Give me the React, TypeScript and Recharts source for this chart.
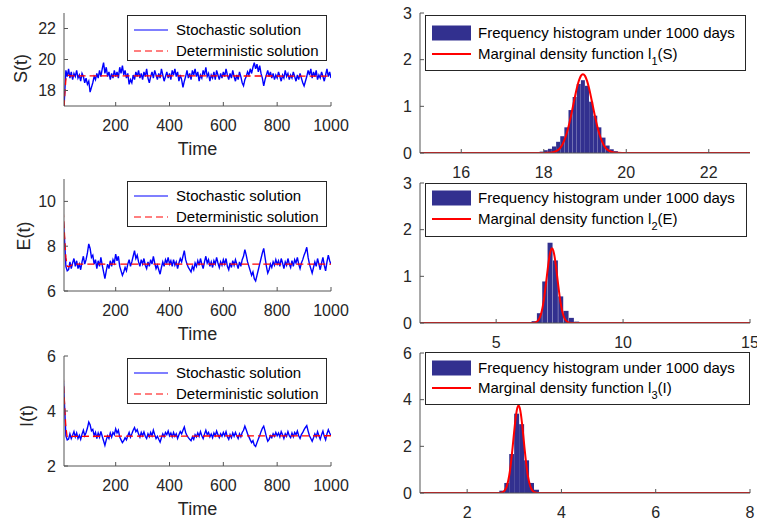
import React from 'react';
import { ComposedChart, LineChart, Line, Bar, XAxis, YAxis, Legend, Label } from 'recharts';

const FONT = '"Liberation Sans", Arial, Helvetica, sans-serif';
const AXIS = '#555555';
const TXT = '#262626';
const BLUE = '#0000ff';
const RED = '#ff0000';
const BARC = '#32308f';

// ---- time grid (t = 5, 10, ..., 1000) ----
const T0 = 5;
const DT = 5;
const timeTicks = [200, 400, 600, 800, 1000];
const timeDomain: [number, number] = [8, 1000];

// ---- S(t) ----
const sStoch = [
  16.0, 17.6, 19.3, 18.9, 19.4, 18.8, 19.2, 18.7, 19.1, 18.9, 19.3, 18.8, 19.0, 18.6, 19.1, 18.9, 18.5, 18.8, 18.4, 18.6,
  17.9, 18.2, 18.5, 18.9, 18.7, 19.1, 18.8, 19.3, 18.9, 19.4, 19.8, 19.1, 19.5, 18.9, 19.2, 18.7, 19.1, 18.8, 19.3, 18.9,
  19.2, 18.8, 19.5, 19.1, 19.6, 19.0, 19.3, 18.8, 19.1, 18.4, 18.7, 18.5, 19.0, 18.7, 19.2, 18.9, 19.3, 18.8, 19.1, 18.7,
  19.2, 18.9, 19.4, 18.8, 18.5, 18.9, 19.2, 18.8, 19.3, 19.0, 18.7, 19.1, 18.8, 19.4, 19.0, 18.6, 18.9, 19.2, 18.8, 19.1,
  18.7, 19.3, 19.0, 19.4, 18.9, 19.2, 18.6, 19.0, 18.7, 18.2, 18.6, 18.9, 19.3, 18.8, 19.1, 18.7, 19.3, 19.0, 19.4, 18.9,
  19.2, 18.6, 19.0, 18.8, 19.3, 19.0, 19.5, 18.9, 19.1, 18.6, 19.0, 18.8, 19.2, 18.7, 19.3, 19.0, 18.7, 19.1, 18.8, 19.2,
  18.9, 19.4, 19.0, 18.7, 19.1, 18.8, 19.3, 18.9, 18.6, 19.0, 18.7, 19.2, 18.9, 18.5, 18.3, 18.7, 18.9, 19.2, 19.0, 19.4,
  19.1, 19.5, 19.8, 19.4, 19.7, 19.2, 19.6, 19.1, 18.8, 18.3, 18.7, 19.0, 19.3, 18.9, 19.2, 18.8, 19.1, 18.7, 19.0, 18.8,
  19.2, 18.9, 18.6, 19.0, 18.8, 19.3, 18.9, 19.1, 18.7, 19.0, 18.8, 19.2, 18.9, 18.6, 19.0, 18.7, 19.1, 18.8, 18.5, 18.3,
  18.6, 18.9, 19.3, 19.0, 19.4, 18.8, 19.2, 18.9, 19.3, 18.7, 19.0, 18.8, 19.2, 18.9, 18.6, 19.0, 19.4, 18.9, 19.2, 18.8,
];
const sDetT = [5, 10, 15, 20, 30, 1000];
const sDetV = [15.5, 17.5, 18.7, 19.0, 18.95, 18.93];

// ---- E(t) ----
const eStoch = [
  9.2, 8.3, 7.1, 6.9, 6.95, 7.3, 7.0, 7.25, 7.45, 7.1, 7.35, 7.0, 7.2, 6.95, 7.3, 7.55, 7.2, 7.4, 7.7, 8.1,
  7.9, 7.5, 7.6, 7.2, 7.4, 7.0, 7.35, 7.1, 7.5, 7.15, 6.85, 6.55, 6.9, 7.2, 7.0, 7.35, 7.1, 7.4, 7.25, 7.65,
  7.35, 7.55, 7.1, 6.9, 6.7, 6.85, 7.05, 6.9, 7.2, 7.4, 7.1, 7.3, 7.55, 7.8, 7.45, 7.6, 7.3, 7.1, 7.4, 7.2,
  7.45, 7.15, 7.0, 7.3, 7.1, 7.4, 7.2, 7.55, 7.25, 7.0, 7.15, 6.95, 6.75, 7.05, 7.3, 7.1, 7.4, 7.25, 7.5, 7.2,
  7.35, 7.1, 7.4, 7.15, 7.3, 7.0, 7.25, 7.45, 7.3, 7.55, 7.8, 7.4, 7.2, 7.05, 6.95, 6.85, 7.1, 6.95, 7.25, 7.1,
  7.35, 7.15, 7.45, 7.2, 7.0, 7.3, 7.55, 7.25, 7.4, 7.1, 7.3, 7.05, 7.35, 7.2, 7.5, 7.25, 7.05, 7.3, 7.15, 7.4,
  7.2, 7.45, 7.1, 6.95, 7.25, 7.05, 7.35, 7.15, 7.4, 7.2, 7.0, 7.3, 7.1, 7.4, 7.55, 7.85, 7.6, 7.3, 7.1, 6.9,
  6.7, 6.85, 6.55, 6.45, 6.7, 6.95, 7.2, 7.45, 7.7, 7.9, 7.5, 7.1, 6.8, 6.95, 7.2, 7.05, 7.3, 7.15, 7.4, 7.2,
  7.35, 7.1, 7.45, 7.25, 7.0, 7.3, 7.15, 7.45, 7.2, 7.05, 7.35, 7.1, 7.4, 7.25, 7.5, 7.2, 7.0, 7.25, 7.4, 7.6,
  7.75, 7.95, 7.5, 7.2, 7.0, 6.8, 7.05, 7.3, 7.1, 7.45, 7.2, 6.95, 7.25, 7.5, 7.15, 6.9, 7.3, 7.6, 7.35, 7.2,
];
const eDetT = [5, 10, 15, 20, 25, 35, 45, 1000];
const eDetV = [9.6, 8.5, 7.5, 7.1, 7.08, 7.15, 7.2, 7.2];

// ---- I(t) ----
const iStoch = [
  5.2, 4.2, 3.1, 2.95, 2.98, 3.17, 3.0, 3.12, 3.25, 3.06, 3.2, 3.0, 3.12, 2.97, 3.16, 3.3, 3.1, 3.22, 3.38, 3.6,
  3.5, 3.28, 3.33, 3.1, 3.22, 3.0, 3.2, 3.05, 3.26, 3.08, 2.92, 2.75, 2.95, 3.1, 3.0, 3.2, 3.05, 3.22, 3.14, 3.35,
  3.2, 3.3, 3.05, 2.95, 2.85, 2.92, 3.03, 2.95, 3.1, 3.22, 3.05, 3.17, 3.3, 3.4, 3.25, 3.32, 3.16, 3.05, 3.22, 3.1,
  3.24, 3.08, 3.0, 3.17, 3.06, 3.22, 3.1, 3.3, 3.14, 3.0, 3.08, 2.97, 2.87, 3.03, 3.17, 3.06, 3.22, 3.14, 3.27, 3.1,
  3.2, 3.06, 3.22, 3.08, 3.17, 3.0, 3.14, 3.25, 3.17, 3.3, 3.42, 3.22, 3.1, 3.03, 2.97, 2.92, 3.06, 2.97, 3.14, 3.06,
  3.2, 3.08, 3.25, 3.1, 3.0, 3.16, 3.3, 3.14, 3.22, 3.06, 3.16, 3.03, 3.2, 3.1, 3.27, 3.14, 3.03, 3.17, 3.08, 3.22,
  3.1, 3.25, 3.06, 2.97, 3.14, 3.03, 3.2, 3.08, 3.22, 3.1, 3.0, 3.17, 3.06, 3.22, 3.3, 3.45, 3.32, 3.17, 3.06, 2.95,
  2.85, 2.92, 2.76, 2.71, 2.85, 2.98, 3.1, 3.25, 3.37, 3.45, 3.27, 3.06, 2.9, 2.97, 3.1, 3.03, 3.17, 3.08, 3.22, 3.1,
  3.2, 3.06, 3.25, 3.14, 3.0, 3.17, 3.08, 3.25, 3.1, 3.03, 3.2, 3.06, 3.22, 3.14, 3.27, 3.1, 3.0, 3.14, 3.22, 3.32,
  3.4, 3.47, 3.27, 3.1, 3.0, 2.9, 3.03, 3.17, 3.06, 3.25, 3.1, 2.97, 3.14, 3.27, 3.08, 2.95, 3.17, 3.32, 3.2, 3.1,
];
const iDetT = [5, 10, 15, 20, 25, 35, 1000];
const iDetV = [5.3, 4.3, 3.4, 3.05, 3.04, 3.08, 3.1];

// ---- histograms ----
const sBinX = [17.95, 18.05, 18.15, 18.25, 18.35, 18.45, 18.55, 18.65, 18.75, 18.85, 18.95, 19.05, 19.15, 19.25, 19.35, 19.45, 19.55, 19.65, 19.75, 19.85];
const sBinY = [0.03, 0.06, 0.09, 0.14, 0.24, 0.36, 0.55, 0.92, 1.2, 1.48, 1.56, 1.44, 1.1, 0.8, 0.55, 0.33, 0.16, 0.08, 0.04, 0.02];
const sDensX = [15, 17.9, 18.0, 18.1, 18.2, 18.25, 18.3, 18.35, 18.4, 18.45, 18.5, 18.55, 18.6, 18.65, 18.7, 18.75, 18.8, 18.85, 18.9, 18.95, 19.0, 19.05, 19.1, 19.15, 19.2, 19.25, 19.3, 19.35, 19.4, 19.45, 19.5, 19.55, 19.6, 19.65, 19.7, 19.8, 19.9, 20.0, 23];
const sDensY = [0, 0, 0.0, 0.003, 0.011, 0.021, 0.038, 0.067, 0.112, 0.179, 0.274, 0.402, 0.563, 0.753, 0.964, 1.18, 1.381, 1.545, 1.653, 1.69, 1.653, 1.545, 1.381, 1.18, 0.964, 0.753, 0.563, 0.402, 0.274, 0.179, 0.112, 0.067, 0.038, 0.021, 0.011, 0.003, 0, 0, 0];

const eBinX = [6.5, 6.71, 6.92, 7.13, 7.34, 7.55, 7.76, 7.97, 8.18];
const eBinY = [0.04, 0.21, 0.89, 1.72, 1.34, 0.57, 0.26, 0.11, 0.03];
const eDensX = [2, 6.3, 6.4, 6.5, 6.6, 6.7, 6.75, 6.8, 6.85, 6.9, 6.95, 7.0, 7.05, 7.1, 7.15, 7.2, 7.25, 7.3, 7.35, 7.4, 7.45, 7.5, 7.55, 7.6, 7.65, 7.7, 7.8, 7.9, 8.0, 8.1, 15];
const eDensY = [0, 0, 0.001, 0.006, 0.027, 0.094, 0.161, 0.261, 0.399, 0.577, 0.788, 1.016, 1.24, 1.429, 1.555, 1.6, 1.555, 1.429, 1.24, 1.016, 0.788, 0.577, 0.399, 0.261, 0.161, 0.094, 0.027, 0.006, 0.001, 0, 0];

const iBinX = [2.735, 2.84, 2.945, 3.05, 3.155, 3.26, 3.365, 3.47, 3.575];
const iBinY = [0.1, 0.43, 1.67, 3.4, 2.95, 1.4, 0.43, 0.14, 0.04];
const iDensX = [1, 2.6, 2.69, 2.74, 2.79, 2.84, 2.89, 2.915, 2.94, 2.965, 2.99, 3.015, 3.04, 3.065, 3.09, 3.115, 3.14, 3.165, 3.19, 3.215, 3.24, 3.265, 3.29, 3.34, 3.39, 3.44, 3.49, 3.6, 8];
const iDensY = [0, 0, 0.005, 0.024, 0.091, 0.284, 0.718, 1.058, 1.48, 1.966, 2.481, 2.972, 3.382, 3.654, 3.75, 3.654, 3.382, 2.972, 2.481, 1.966, 1.48, 1.058, 0.718, 0.284, 0.091, 0.024, 0.005, 0, 0];

type LegendItem = { kind: 'line' | 'rect'; color: string; width?: number; dash?: string; label: React.ReactNode };

function LegendBox({ items, rows, swX, swW, textX }: { items: LegendItem[]; rows: number[]; swX: number; swW: number; textX: number }) {
  return (
    <div
      style={{
        position: 'relative', width: '100%', height: '100%', boxSizing: 'border-box',
        border: '1px solid #262626', background: '#ffffff', fontFamily: FONT, fontSize: 15, color: '#000000',
      }}
    >
      {items.map((it, k) => (
        <div key={k} style={{ position: 'absolute', left: 0, top: rows[k] - 10, height: 20, width: '100%' }}>
          <svg style={{ position: 'absolute', left: swX, top: 0 }} width={swW} height={20}>
            {it.kind === 'rect' ? (
              <rect x={0} y={2.5} width={swW} height={15} fill={it.color} />
            ) : (
              <line x1={0} x2={swW} y1={10} y2={10} stroke={it.color} strokeWidth={it.width || 1} strokeDasharray={it.dash} />
            )}
          </svg>
          <span style={{ position: 'absolute', left: textX, top: 0, lineHeight: '20px', whiteSpace: 'nowrap' }}>{it.label}</span>
        </div>
      ))}
    </div>
  );
}

const tsLegend: LegendItem[] = [
  { kind: 'line', color: BLUE, width: 1.2, label: 'Stochastic solution' },
  { kind: 'line', color: RED, width: 1.2, dash: '7 4', label: 'Deterministic solution' },
];

function histLegend(k: string, v: string): LegendItem[] {
  return [
    { kind: 'rect', color: BARC, label: 'Frequency histogram under 1000 days' },
    {
      kind: 'line', color: RED, width: 2,
      label: (
        <>
          Marginal density function l
          <span style={{ fontSize: 11, position: 'relative', top: 6 }}>{k}</span>({v})
        </>
      ),
    },
  ];
}

type TSProps = {
  top: number; height: number; plotH: number; yDomain: [number, number]; yTicks: number[];
  yLabel: string; labelDx: number; labelDy: number; stoch: number[]; detT: number[]; detV: number[];
};

function TimePanel(p: TSProps) {
  const data = p.stoch.map((v, i) => ({ t: T0 + DT * i, v }));
  const det = p.detT.map((t, i) => ({ t, v: p.detV[i] }));
  const xAxisH = p.height - 13 - p.plotH;
  const tickStyle = { fontSize: 16, fill: TXT, fontFamily: FONT };
  return (
    <div style={{ position: 'absolute', left: 0, top: p.top, width: 380, height: p.height }}>
      <LineChart width={380} height={p.height} data={data} margin={{ top: 13, right: 49, bottom: 0, left: 0 }}>
        <XAxis dataKey="t" type="number" domain={timeDomain} allowDataOverflow ticks={timeTicks} interval={0}
          tickSize={-4} tickMargin={18} height={xAxisH} stroke={AXIS} tick={tickStyle}>
          <Label value="Time" position="insideTop" offset={36} style={{ fontSize: 18, fill: TXT, fontFamily: FONT }} />
        </XAxis>
        <XAxis xAxisId="top" orientation="top" dataKey="t" type="number" domain={timeDomain} allowDataOverflow
          ticks={timeTicks} interval={0} tickSize={-4} height={0} tick={false} stroke={AXIS} />
        <YAxis type="number" domain={p.yDomain} allowDataOverflow ticks={p.yTicks} interval={0}
          tickSize={-4} tickMargin={12} width={64} stroke={AXIS} tick={tickStyle}>
          <Label value={p.yLabel} position="center" angle={-90} dx={p.labelDx} dy={p.labelDy}
            style={{ fontSize: 18, fill: TXT, fontFamily: FONT }} />
        </YAxis>
        <YAxis yAxisId="r" orientation="right" type="number" domain={p.yDomain} allowDataOverflow ticks={p.yTicks}
          interval={0} tickSize={-4} width={0} tick={false} stroke={AXIS} />
        <Line dataKey="v" stroke={BLUE} strokeWidth={1.4} dot={false} isAnimationActive={false} />
        <Line xAxisId="top" data={det} dataKey="v" stroke={RED} strokeWidth={1.3} strokeDasharray="7 4"
          dot={false} isAnimationActive={false} />
        <Legend layout="horizontal" verticalAlign="middle" align="center"
          wrapperStyle={{ position: 'absolute', left: 127, top: 15, width: 200, height: 46 }}
          content={() => <LegendBox items={tsLegend} rows={[14.3, 34.5]} swX={6} swW={34} textX={48} />} />
      </LineChart>
    </div>
  );
}

type HProps = {
  top: number; height: number; xDomain: [number, number]; xTicks: number[]; yDomain: [number, number]; yTicks: number[];
  binX: number[]; binY: number[]; densX: number[]; densY: number[]; sub: string; varName: string;
  legTop: number; legW: number; legH: number; rows: number[];
};

function HistPanel(p: HProps) {
  const data = p.binX.map((x, i) => ({ x, h: p.binY[i] }));
  const dens = p.densX.map((x, i) => ({ x, d: p.densY[i] }));
  const tickStyle = { fontSize: 16, fill: TXT, fontFamily: FONT };
  return (
    <div style={{ position: 'absolute', left: 380, top: p.top, width: 377, height: p.height }}>
      <ComposedChart width={377} height={p.height} data={data} margin={{ top: 13, right: 7, bottom: 0, left: 0 }}
        barCategoryGap={0} barGap={0}>
        <XAxis dataKey="x" type="number" domain={p.xDomain} allowDataOverflow ticks={p.xTicks} interval={0}
          tickSize={-4} tickMargin={18} height={p.height - 153} stroke={AXIS} tick={tickStyle} />
        <XAxis xAxisId="top" orientation="top" dataKey="x" type="number" domain={p.xDomain} allowDataOverflow
          ticks={p.xTicks} interval={0} tickSize={-4} height={0} tick={false} stroke={AXIS} />
        <YAxis type="number" domain={p.yDomain} allowDataOverflow ticks={p.yTicks} interval={0}
          tickSize={-4} tickMargin={12} width={40} stroke={AXIS} tick={tickStyle} />
        <YAxis yAxisId="r" orientation="right" type="number" domain={p.yDomain} allowDataOverflow ticks={p.yTicks}
          interval={0} tickSize={-4} width={0} tick={false} stroke={AXIS} />
        <Bar dataKey="h" fill={BARC} isAnimationActive={false} />
        <Line xAxisId="top" data={dens} dataKey="d" type="monotone" stroke={RED} strokeWidth={2}
          dot={false} isAnimationActive={false} />
        <Legend layout="horizontal" verticalAlign="middle" align="center"
          wrapperStyle={{ position: 'absolute', left: 45, top: p.legTop, width: p.legW, height: p.legH }}
          content={() => <LegendBox items={histLegend(p.sub, p.varName)} rows={p.rows} swX={6} swW={39} textX={52} />} />
      </ComposedChart>
    </div>
  );
}

export default function App() {
  return (
    <div style={{ position: 'fixed', left: 0, top: 0, width: 757, height: 520, background: '#ffffff', fontFamily: FONT, overflow: 'hidden' }}>
      <TimePanel top={0} height={170} plotH={93} yDomain={[17, 23]} yTicks={[18, 20, 22]} yLabel="S(t)"
        labelDx={-11} labelDy={9} stoch={sStoch} detT={sDetT} detV={sDetV} />
      <TimePanel top={166} height={185} plotH={112} yDomain={[6, 11]} yTicks={[6, 8, 10]} yLabel="E(t)"
        labelDx={-8} labelDy={1} stoch={eStoch} detT={eDetT} detV={eDetV} />
      <TimePanel top={343} height={177} plotH={110} yDomain={[2, 6]} yTicks={[2, 4, 6]} yLabel="I(t)"
        labelDx={-5} labelDy={5} stoch={iStoch} detT={iDetT} detV={iDetV} />

      <HistPanel top={0} height={185} xDomain={[15, 23]} xTicks={[16, 18, 20, 22]} yDomain={[0, 3]} yTicks={[0, 1, 2, 3]}
        binX={sBinX} binY={sBinY} densX={sDensX} densY={sDensY} sub="1" varName="S"
        legTop={15} legW={321} legH={56} rows={[16.7, 38.3]} />
      <HistPanel top={170} height={185} xDomain={[2, 15]} xTicks={[5, 10, 15]} yDomain={[0, 3]} yTicks={[0, 1, 2, 3]}
        binX={eBinX} binY={eBinY} densX={eDensX} densY={eDensY} sub="2" varName="E"
        legTop={13} legW={322} legH={54} rows={[14, 35]} />
      <HistPanel top={340} height={180} xDomain={[1, 8]} xTicks={[2, 4, 6, 8]} yDomain={[0, 6]} yTicks={[0, 2, 4, 6]}
        binX={iBinX} binY={iBinY} densX={iDensX} densY={iDensY} sub="3" varName="I"
        legTop={12} legW={325} legH={53} rows={[14.7, 34.7]} />
    </div>
  );
}
